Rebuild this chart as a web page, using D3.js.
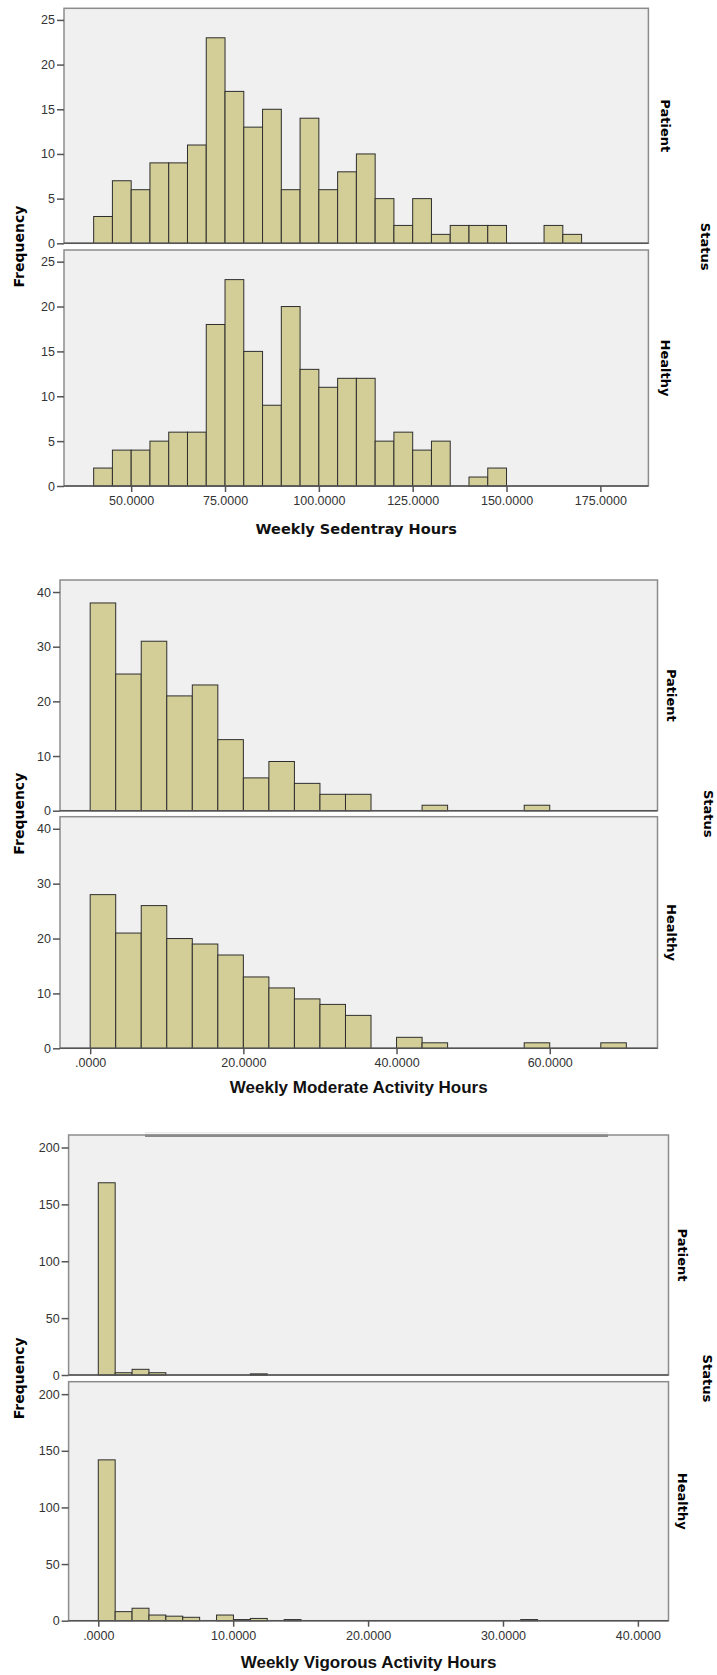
<!DOCTYPE html>
<html>
<head>
<meta charset="utf-8">
<script src="https://cdn.jsdelivr.net/npm/d3@7"></script>
<style>
body { margin: 0; background: #fff; }
svg text { font-family: "Liberation Sans", Arial, sans-serif; }
</style>
</head>
<body>
<div id="chart"></div>
<script>
// counts per bin
var statusLabels = ["Patient", "Healthy"];

var sedentaryBinStart = 40, sedentaryBinWidth = 5;
var sedentaryPatient = [3, 7, 6, 9, 9, 11, 23, 17, 13, 15, 6, 14, 6, 8, 10, 5, 2, 5, 1, 2, 2, 2, 0, 0, 2, 1];
var sedentaryHealthy = [2, 4, 4, 5, 6, 6, 18, 23, 15, 9, 20, 13, 11, 12, 12, 5, 6, 4, 5, 0, 1, 2];
var sedentaryTicksX = [50, 75, 100, 125, 150, 175];
var sedentaryTicksY = [0, 5, 10, 15, 20, 25];

var moderateBinStart = 0, moderateBinWidth = 10 / 3;
var moderatePatient = [38, 25, 31, 21, 23, 13, 6, 9, 5, 3, 3, 0, 0, 1, 0, 0, 0, 1];
var moderateHealthy = [28, 21, 26, 20, 19, 17, 13, 11, 9, 8, 6, 0, 2, 1, 0, 0, 0, 1, 0, 0, 1];
var moderateTicksX = [0, 20, 40, 60];
var moderateTicksY = [0, 10, 20, 30, 40];

var vigorousBinStart = 0, vigorousBinWidth = 1.2525;
var vigorousPatient = [169, 2, 5, 2, 0, 0, 0, 0, 0, 1];
var vigorousHealthy = [142, 8, 11, 5, 4, 3, 0, 5, 1, 2, 0, 1, 0, 0, 0, 0, 0, 0, 0, 0, 0, 0, 0, 0, 0, 1];
var vigorousTicksX = [0, 10, 20, 30, 40];
var vigorousTicksY = [0, 50, 100, 150, 200];

var width = 717, height = 1675;

var svg = d3.select("#chart").append("svg")
    .attr("width", width)
    .attr("height", height);

function fmt(d) {
    var s = d.toFixed(4);
    if (s.indexOf("0.") == 0) s = s.slice(1);
    return s;
}

var charts = [
    { title: "Weekly Sedentray Hours", titleFont: "DejaVu Sans", titleSize: 14.5, titleY: 529,
      left: 64, right: 648.4, tops: [8.3, 250], bottoms: [243.3, 486], xDomain: [32.1, 187.8], yMax: 26.3,
      binStart: sedentaryBinStart, binWidth: sedentaryBinWidth, series: [sedentaryPatient, sedentaryHealthy],
      ticksX: sedentaryTicksX, ticksY: sedentaryTicksY, labelOffset: 17, statusOffset: 57 },
    { title: "Weekly Moderate Activity Hours", titleFont: "Liberation Sans", titleSize: 17, titleY: 1087,
      left: 60, right: 657.5, tops: [580, 816.7], bottoms: [810.7, 1048.3], xDomain: [-3.94, 74.07], yMax: 42.2,
      binStart: moderateBinStart, binWidth: moderateBinWidth, series: [moderatePatient, moderateHealthy],
      ticksX: moderateTicksX, ticksY: moderateTicksY, labelOffset: 14.5, statusOffset: 51 },
    { title: "Weekly Vigorous Activity Hours", titleFont: "Liberation Sans", titleSize: 17, titleY: 1662,
      left: 68.6, right: 668.5, tops: [1135, 1381.7], bottoms: [1375, 1620.7], xDomain: [-2.2, 42.27], yMax: 211,
      binStart: vigorousBinStart, binWidth: vigorousBinWidth, series: [vigorousPatient, vigorousHealthy],
      ticksX: vigorousTicksX, ticksY: vigorousTicksY, labelOffset: 14.5, statusOffset: 39, topLine: [145, 608] }
];

charts.forEach(function(c) {
    var g = svg.append("g");
    var xScale = d3.scaleLinear().domain(c.xDomain).range([c.left, c.right]);

    for (var p = 0; p < 2; p++) {
        var top = c.tops[p], bottom = c.bottoms[p];
        var yScale = d3.scaleLinear().domain([0, c.yMax]).range([bottom, top]);

        g.append("rect")
            .attr("x", c.left)
            .attr("y", top)
            .attr("width", c.right - c.left)
            .attr("height", bottom - top)
            .attr("fill", "#f0f0f0")
            .attr("stroke", "#8c8c8c")
            .attr("stroke-width", 1.5);

        var bins = c.series[p].map(function(v, i) {
            return { x0: c.binStart + i * c.binWidth, x1: c.binStart + (i + 1) * c.binWidth, n: v };
        }).filter(function(d) { return d.n > 0; });

        g.append("g").selectAll("rect")
            .data(bins)
            .enter().append("rect")
            .attr("x", function(d) { return xScale(d.x0); })
            .attr("width", function(d) { return xScale(d.x1) - xScale(d.x0); })
            .attr("y", function(d) { return yScale(d.n); })
            .attr("height", function(d) { return bottom - yScale(d.n); })
            .attr("fill", "#d3ce97")
            .attr("stroke", "#2e2e2e")
            .attr("stroke-width", 1);

        // baseline
        g.append("line")
            .attr("x1", c.left).attr("x2", c.right)
            .attr("y1", bottom).attr("y2", bottom)
            .attr("stroke", "#555")
            .attr("stroke-width", 1.6);

        var yAxis = d3.axisLeft(yScale).tickValues(c.ticksY).tickSize(7).tickPadding(2);
        var ya = g.append("g")
            .attr("transform", "translate(" + c.left + ",0)")
            .call(yAxis);
        ya.select(".domain").remove();
        ya.selectAll("line").attr("stroke", "#555").attr("stroke-width", 1.5);
        ya.selectAll("text").attr("font-size", 12.5).attr("fill", "#333")
            .style("font-family", "'Liberation Sans', Arial, sans-serif");

        g.append("text")
            .attr("transform", "translate(" + (c.right + c.labelOffset) + "," + ((top + bottom) / 2) + ") rotate(90)")
            .attr("text-anchor", "middle")
            .attr("dy", "0.35em")
            .attr("font-size", 13)
            .attr("font-weight", "bold")
            .style("font-family", "'DejaVu Sans', sans-serif")
            .text(statusLabels[p]);
    }

    if (c.topLine) {
        g.append("line")
            .attr("x1", c.topLine[0]).attr("x2", c.topLine[1])
            .attr("y1", c.tops[0] + 0.8).attr("y2", c.tops[0] + 0.8)
            .attr("stroke", "#8a8a8a")
            .attr("stroke-width", 2.5);
        g.append("line")
            .attr("x1", c.topLine[0]).attr("x2", c.topLine[1])
            .attr("y1", c.tops[0] - 2.2).attr("y2", c.tops[0] - 2.2)
            .attr("stroke", "#ececec")
            .attr("stroke-width", 1.5);
    }

    var xAxis = d3.axisBottom(xScale).tickValues(c.ticksX).tickSize(6).tickPadding(4).tickFormat(fmt);
    var xa = g.append("g")
        .attr("transform", "translate(0," + c.bottoms[1] + ")")
        .call(xAxis);
    xa.select(".domain").remove();
    xa.selectAll("line").attr("stroke", "#555").attr("stroke-width", 1.5);
    xa.selectAll("text").attr("font-size", 12.5).attr("fill", "#333")
        .style("font-family", "'Liberation Sans', Arial, sans-serif");

    var mid = (c.bottoms[0] + c.tops[1]) / 2;
    g.append("text")
        .attr("transform", "translate(19," + mid + ") rotate(-90)")
        .attr("text-anchor", "middle")
        .attr("dy", "0.35em")
        .attr("font-size", 14)
        .attr("font-weight", "bold")
        .style("font-family", "'DejaVu Sans', sans-serif")
        .text("Frequency");

    g.append("text")
        .attr("transform", "translate(" + (c.right + c.statusOffset) + "," + mid + ") rotate(90)")
        .attr("text-anchor", "middle")
        .attr("dy", "0.35em")
        .attr("font-size", 13)
        .attr("font-weight", "bold")
        .style("font-family", "'DejaVu Sans', sans-serif")
        .text("Status");

    g.append("text")
        .attr("x", (c.left + c.right) / 2)
        .attr("y", c.titleY)
        .attr("dy", "0.35em")
        .attr("text-anchor", "middle")
        .attr("font-size", c.titleSize)
        .attr("font-weight", "bold")
        .attr("fill", "#111")
        .style("font-family", "'" + c.titleFont + "', sans-serif")
        .text(c.title);
});
</script>
</body>
</html>
